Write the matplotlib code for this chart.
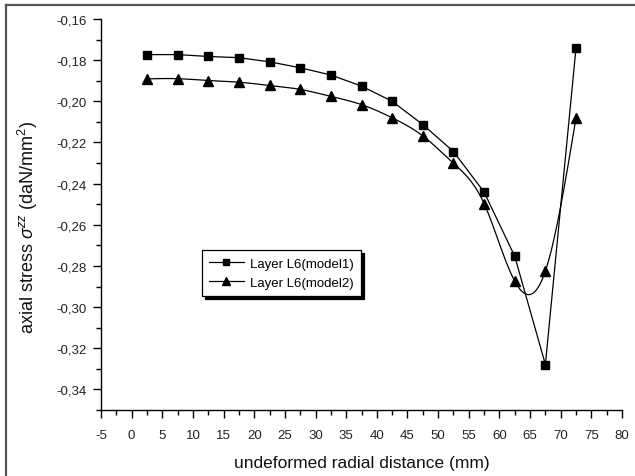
import numpy as np
import matplotlib
matplotlib.use("Agg")
import matplotlib.pyplot as plt
from matplotlib.ticker import MultipleLocator, FuncFormatter
from matplotlib.lines import Line2D

plt.rcParams['font.family'] = ['Liberation Sans', 'DejaVu Sans']
plt.rcParams['mathtext.fontset'] = 'custom'
plt.rcParams['mathtext.rm'] = 'Liberation Sans'
plt.rcParams['mathtext.it'] = 'Liberation Sans:italic'

# ---- data ----
x_mm = [2.5, 7.5, 12.5, 17.5, 22.5, 27.5, 32.5, 37.5, 42.5, 47.5, 52.5, 57.5, 62.5, 67.5, 72.5]
model1 = [-0.1773, -0.1773, -0.1782, -0.1788, -0.1808, -0.1837, -0.1872, -0.1926,
          -0.2000, -0.2113, -0.2244, -0.2441, -0.2753, -0.3279, -0.1740]
model2 = [-0.1891, -0.1890, -0.1899, -0.1907, -0.1923, -0.1942, -0.1976, -0.2016,
          -0.2080, -0.2168, -0.2301, -0.2497, -0.2874, -0.2825, -0.2080]
labels = ["Layer L6(model1)", "Layer L6(model2)"]
x_ticks = list(range(-5, 81, 5))
y_ticks = [-0.34, -0.32, -0.30, -0.28, -0.26, -0.24, -0.22, -0.20, -0.18, -0.16]


def natural_spline(x, y, n=600):
    x = np.asarray(x, float)
    y = np.asarray(y, float)
    m = len(x)
    h = np.diff(x)
    A = np.zeros((m, m))
    b = np.zeros(m)
    A[0, 0] = A[-1, -1] = 1.0
    for i in range(1, m - 1):
        A[i, i - 1] = h[i - 1]
        A[i, i] = 2 * (h[i - 1] + h[i])
        A[i, i + 1] = h[i]
        b[i] = 3 * ((y[i + 1] - y[i]) / h[i] - (y[i] - y[i - 1]) / h[i - 1])
    c = np.linalg.solve(A, b)
    xs = np.linspace(x[0], x[-1], n)
    idx = np.clip(np.searchsorted(x, xs) - 1, 0, m - 2)
    dx = xs - x[idx]
    hi = h[idx]
    bb = (y[idx + 1] - y[idx]) / hi - hi * (2 * c[idx] + c[idx + 1]) / 3
    dd = (c[idx + 1] - c[idx]) / (3 * hi)
    ys = y[idx] + bb * dx + c[idx] * dx ** 2 + dd * dx ** 3
    return xs, ys


fig = plt.figure(figsize=(6.35, 4.77), dpi=100)
ax = fig.add_axes([101 / 635, 66 / 477, 521 / 635, 391 / 477])

ax.plot(x_mm, model1, color='black', lw=0.9, marker='s', ms=6, mfc='black', mec='black')
xs, ys = natural_spline(x_mm, model2)
ax.plot(xs, ys, color='black', lw=0.9)
ax.plot(x_mm, model2, ls='none', marker='^', ms=7, mfc='black', mec='black')

ax.set_xlim(-5, 80)
ax.set_ylim(-0.35, -0.16)
ax.set_xticks(x_ticks)
ax.set_yticks(y_ticks)
ax.xaxis.set_minor_locator(MultipleLocator(2.5))
ax.yaxis.set_minor_locator(MultipleLocator(0.01))
ax.yaxis.set_major_formatter(FuncFormatter(lambda v, p: f"{v:.2f}".replace('.', ',')))
ax.xaxis.set_major_formatter(FuncFormatter(lambda v, p: f"{v:g}"))

for s in ['top', 'right']:
    ax.spines[s].set_visible(False)
for s in ['left', 'bottom']:
    ax.spines[s].set_linewidth(1.0)
ax.tick_params(which='major', direction='out', length=6, width=1.0, labelsize=9.5,
               colors='black', labelcolor='#222222')
ax.tick_params(which='minor', direction='out', length=3.5, width=1.0)
ax.tick_params(axis='x', pad=8)
ax.tick_params(axis='y', pad=4)

ax.set_xlabel("undeformed radial distance (mm)", fontsize=12.5, labelpad=10, color='#111111')
ax.set_ylabel(r"axial stress $\sigma^{zz}$ (daN/mm$^2$)", fontsize=13, color='#111111')
ax.yaxis.set_label_coords(-0.118, 0.47)

handles = [
    Line2D([], [], color='black', lw=0.9, marker='s', ms=4.5),
    Line2D([], [], color='black', lw=0.9, marker='^', ms=5.5),
]
leg = ax.legend(handles, labels, loc='upper left', bbox_to_anchor=(0.194, 0.408),
                borderaxespad=0, fontsize=9.5, frameon=True, fancybox=False,
                shadow={'color': 'black', 'alpha': 1.0},
                edgecolor='black', handlelength=2.6, handletextpad=0.5, borderpad=0.55,
                labelspacing=0.5)
leg.get_frame().set_linewidth(0.9)
leg.get_frame().set_alpha(1.0)

# outer frame lines (left and top)
fig.add_artist(Line2D([6 / 635, 6 / 635], [0, 1 - 6 / 477], transform=fig.transFigure,
                      color='#555555', lw=1.6))
fig.add_artist(Line2D([6 / 635, 1], [1 - 6 / 477, 1 - 6 / 477], transform=fig.transFigure,
                      color='#555555', lw=1.6))

fig.savefig("out.png", dpi=100)
